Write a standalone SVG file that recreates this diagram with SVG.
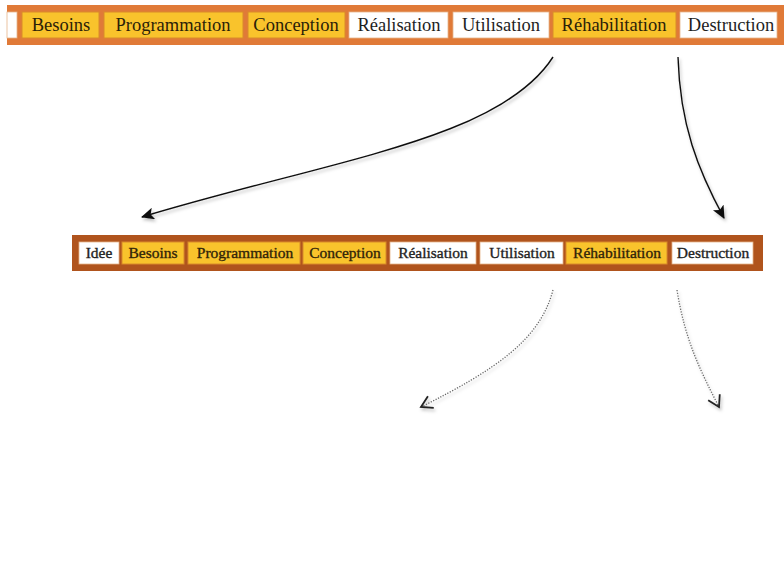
<svg xmlns="http://www.w3.org/2000/svg" width="784" height="562" viewBox="0 0 784 562">
  <style>
    .bar1 { fill: #e07a38; }
    .bar2 { fill: #b0541d; }
    .cellY { fill: #f9c32c; stroke: #d98a2a; stroke-width: 1; }
    .cellW { fill: #ffffff; stroke: #e6b48a; stroke-width: 0.8; }
    .t1 { font-family: "Liberation Serif", "Times New Roman", serif; font-size: 18.5px; text-anchor: middle; }
    .t2 { font-family: "Liberation Serif", "Times New Roman", serif; font-size: 15.5px; text-anchor: middle; stroke-width: 0.35; }
    .dk { fill: #2b2108; }
    .bk { fill: #1e1e1e; }
    .t2.dk { stroke: #3a2a0a; }
    .t2.bk { stroke: #222; }
    .solid { fill: none; stroke: #111; stroke-width: 1.4; }
    .dotted { fill: none; stroke: #666; stroke-width: 1.3; stroke-dasharray: 1.2 1.5; }
  </style>
  <defs>
    <filter id="shadow" x="-10%" y="-10%" width="120%" height="120%">
      <feDropShadow dx="1.5" dy="2.5" stdDeviation="1.5" flood-color="#000" flood-opacity="0.25"/>
    </filter>
    <marker id="head" markerWidth="14" markerHeight="12" refX="12" refY="6" orient="auto" markerUnits="userSpaceOnUse">
      <path d="M0,0 L13,6 L0,12 L3,6 Z" fill="#111"/>
    </marker>
    <marker id="open" markerWidth="16" markerHeight="16" refX="13" refY="8" orient="auto" markerUnits="userSpaceOnUse">
      <path d="M2,1.5 L13,8 L2,14.5" fill="none" stroke="#222" stroke-width="1.8"/>
    </marker>
  </defs>

  <rect width="784" height="562" fill="#ffffff"/>

  <!-- Upper phase bar -->
  <g id="bar-top">
    <rect class="bar1" x="7" y="5" width="780" height="40"/>
    <g id="top-blank"><rect class="cellW" x="7" y="12" width="10" height="26"/></g>
    <g id="top-besoins"><rect class="cellY" x="22" y="12" width="77" height="26"/><text class="t1 dk" x="61" y="31">Besoins</text></g>
    <g id="top-programmation"><rect class="cellY" x="104" y="12" width="139" height="26"/><text class="t1 dk" x="173" y="31">Programmation</text></g>
    <g id="top-conception"><rect class="cellY" x="248" y="12" width="97" height="26"/><text class="t1 dk" x="296" y="31">Conception</text></g>
    <g id="top-realisation"><rect class="cellW" x="349" y="12" width="99" height="26"/><text class="t1 bk" x="399" y="31">Réalisation</text></g>
    <g id="top-utilisation"><rect class="cellW" x="453" y="12" width="96" height="26"/><text class="t1 bk" x="501" y="31">Utilisation</text></g>
    <g id="top-rehabilitation"><rect class="cellY" x="553" y="12" width="123" height="26"/><text class="t1 dk" x="614" y="31">Réhabilitation</text></g>
    <g id="top-destruction"><rect class="cellW" x="680" y="12" width="97" height="26"/><text class="t1 bk" x="731" y="31">Destruction</text></g>
  </g>

  <!-- Lower phase bar -->
  <g id="bar-bottom">
    <rect class="bar2" x="72" y="235" width="691" height="36"/>
    <g id="bot-idee"><rect class="cellW" x="79" y="242" width="40" height="22"/><text class="t2 bk" x="99" y="258">Idée</text></g>
    <g id="bot-besoins"><rect class="cellY" x="122" y="242" width="62" height="22"/><text class="t2 dk" x="153" y="258">Besoins</text></g>
    <g id="bot-programmation"><rect class="cellY" x="188" y="242" width="112" height="22"/><text class="t2 dk" x="245" y="258">Programmation</text></g>
    <g id="bot-conception"><rect class="cellY" x="303" y="242" width="83" height="22"/><text class="t2 dk" x="345" y="258">Conception</text></g>
    <g id="bot-realisation"><rect class="cellW" x="390" y="242" width="86" height="22"/><text class="t2 bk" x="433" y="258">Réalisation</text></g>
    <g id="bot-utilisation"><rect class="cellW" x="480" y="242" width="83" height="22"/><text class="t2 bk" x="522" y="258">Utilisation</text></g>
    <g id="bot-rehabilitation"><rect class="cellY" x="566" y="242" width="101" height="22"/><text class="t2 dk" x="617" y="258">Réhabilitation</text></g>
    <g id="bot-destruction"><rect class="cellW" x="672" y="242" width="81" height="22"/><text class="t2 bk" x="713" y="258">Destruction</text></g>
  </g>

  <!-- Connectors -->
  <g id="connectors">
    <g filter="url(#shadow)">
      <path class="solid" d="M553,57 C500,140 330,160 142,217" marker-end="url(#head)"/>
      <path class="solid" d="M678,57 C680,125 698,170 724,218" marker-end="url(#head)"/>
    </g>
    <g filter="url(#shadow)">
      <path class="dotted" d="M553,290 C540,340 495,370 421,407" marker-end="url(#open)"/>
      <path class="dotted" d="M677,290 C685,340 700,370 719,407" marker-end="url(#open)"/>
    </g>
  </g>
</svg>
